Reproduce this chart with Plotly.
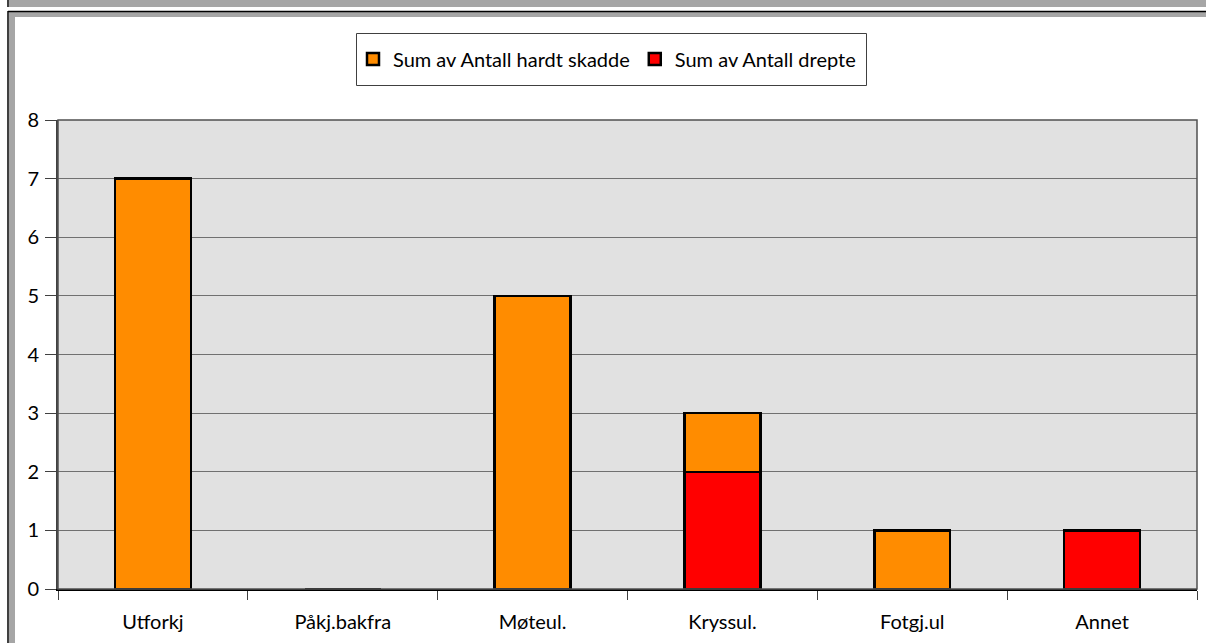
import plotly.graph_objects as go

categories = ["Utforkj", "Påkj.bakfra", "Møteul.", "Kryssul.", "Fotgj.ul", "Annet"]
hardt_skadde = [7, 0, 5, 1, 1, 0]
drepte = [0, 0, 0, 2, 0, 1]

W, H = 1206, 643
L, R, T, B = 58, 9, 120, 54
pw, ph = W - L - R, H - T - B


def px(x):
    return (x - L) / pw


def py(y):
    return (H - B - y) / ph


fig = go.Figure()
fig.add_trace(go.Bar(
    x=categories, y=drepte, name="Sum av Antall drepte",
    marker=dict(color="#FF0000", line=dict(color="black", width=2.5))
))
fig.add_trace(go.Bar(
    x=categories, y=hardt_skadde, name="Sum av Antall hardt skadde",
    marker=dict(color="#FF8C00", line=dict(color="black", width=2.5))
))

# window frame around the chart
frame = [
    dict(type="rect", x0=px(9), x1=px(W + 5), y0=py(-5), y1=py(7),
         fillcolor="#a6a6a6", line_width=0),
    dict(type="line", x0=px(8), x1=px(8), y0=py(-5), y1=py(7),
         line=dict(color="black", width=1.5)),
    dict(type="rect", x0=px(9), x1=px(W + 5), y0=py(12), y1=py(17),
         fillcolor="#a6a6a6", line_width=0),
    dict(type="rect", x0=px(9), x1=px(15), y0=py(12), y1=py(H + 5),
         fillcolor="#a6a6a6", line_width=0),
    dict(type="line", x0=px(8), x1=px(W + 5), y0=py(11.5), y1=py(11.5),
         line=dict(color="black", width=1.5)),
    dict(type="line", x0=px(8), x1=px(8), y0=py(11), y1=py(H + 5),
         line=dict(color="black", width=1.5)),
    # legend box
    dict(type="rect", x0=px(356.5), x1=px(866.5), y0=py(33.5), y1=py(85.5),
         fillcolor="white", line=dict(color="#404040", width=1)),
]
for s in frame:
    s.update(xref="paper", yref="paper", layer="below")
    fig.add_shape(**s)

fig.update_layout(
    barmode="stack",
    bargap=0.6,
    width=W, height=H,
    margin=dict(l=L, r=R, t=T, b=B),
    paper_bgcolor="white",
    plot_bgcolor="#e1e1e1",
    font=dict(family="Lato", size=20, color="black"),
    showlegend=True,
    legend=dict(
        orientation="h", traceorder="reversed",
        x=px(607), xanchor="center", y=py(59), yanchor="middle",
        bgcolor="rgba(0,0,0,0)", borderwidth=0,
        font=dict(size=20), itemwidth=30,
    ),
    xaxis=dict(
        tickson="boundaries", ticks="outside", ticklen=9, tickcolor="#404040",
        ticklabelstandoff=14,
        showline=True, linecolor="black", linewidth=1.5,
        mirror=False, showgrid=False,
    ),
    yaxis=dict(
        range=[0, 8], dtick=1, ticks="outside", ticklen=11, tickcolor="#404040",
        ticklabelstandoff=2,
        showline=True, linecolor="#404040", linewidth=2,
        gridcolor="#707070", gridwidth=1, zeroline=False,
    ),
)
# top / right border of plot area
fig.add_shape(type="rect", xref="paper", yref="paper", x0=0, x1=1, y0=0, y1=1,
              line=dict(color="#505050", width=1.5))

# drop the browser's default body margin so the figure starts at 0,0
fig.write_html("out.html", config={"displayModeBar": False},
               post_script="document.body.style.margin='0';")
